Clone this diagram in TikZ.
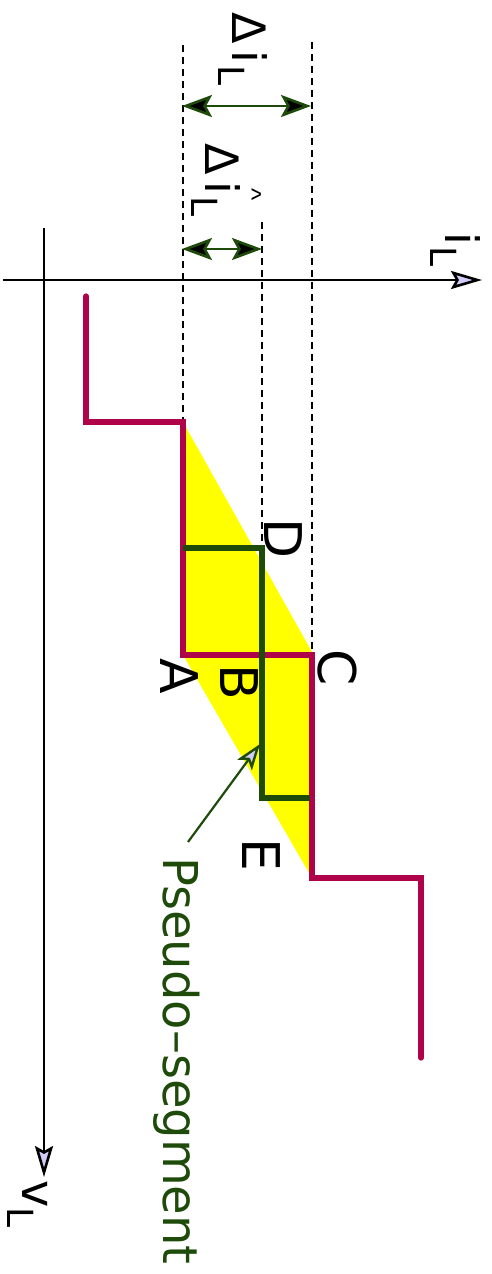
\documentclass[tikz,border=0pt]{standalone}
\usepackage{fontspec}
\setmainfont{DejaVu Sans}
\newfontfamily\arialf{Liberation Sans}
\usetikzlibrary{arrows.meta}
\definecolor{stairred}{HTML}{B0044A}
\definecolor{darkgreen}{HTML}{1E4A0A}
\definecolor{lav}{HTML}{D4CCF8}
\definecolor{yel}{HTML}{FFFF00}
\begin{document}
\begin{tikzpicture}[x=1pt,y=-1pt,
  axis/.style={line width=2.2pt, black, -{Stealth[length=31pt,width=18pt,inset=5pt,fill=lav,line width=2.6pt]}},
  dimarrow/.style={line width=2.8pt, darkgreen, {Stealth[length=30pt,width=22pt,inset=6pt,fill=black,line width=2.6pt]}-{Stealth[length=30pt,width=22pt,inset=6pt,fill=black,line width=2.6pt]}},
  guide/.style={line width=2.2pt, dash pattern=on 7pt off 5pt},
  redstair/.style={line width=5.2pt, stairred, line cap=round, line join=miter},
  greenstair/.style={line width=5.2pt, darkgreen, line join=miter},
  pointer/.style={line width=2.2pt, darkgreen, -{Stealth[length=26pt,width=18pt,inset=6pt,fill=lav,line width=2.4pt]}},
  lbl/.style={rotate=-90, inner sep=0pt, font=\fontsize{52}{60}\selectfont},
  sym/.style={rotate=-90, inner sep=0pt, anchor=base west}
]
\useasboundingbox (0,0) rectangle (491,1274);

% key points
\coordinate (r0) at (86,296);
\coordinate (r1) at (86,422);
\coordinate (P1) at (183,422);
\coordinate (A) at (183,655);
\coordinate (C) at (312,655);
\coordinate (r5) at (312,878);
\coordinate (r6) at (421,878);
\coordinate (r7) at (421,1058);
\coordinate (g0) at (183,548);
\coordinate (D) at (262,548);
\coordinate (E0) at (262,798);
\coordinate (g3) at (310,798);
\coordinate (t1) at (183,45);
\coordinate (t2) at (262,222);
\coordinate (t3) at (312,42);

% yellow parallelogram
\fill[yel] (P1) -- (312,652) -- (r5) -- (A) -- cycle;

% dashed guides
\draw[guide] (t1) -- (P1);
\draw[guide] (t2) -- (D);
\draw[guide] (t3) -- (C);

% dimension arrows
\coordinate (d1a) at (182,106); \coordinate (d1b) at (311,106);
\coordinate (d2a) at (182,249); \coordinate (d2b) at (262,249);
\draw[dimarrow] (d1a) -- (d1b);
\draw[dimarrow] (d2a) -- (d2b);

% axes
\coordinate (ha) at (3,280); \coordinate (hb) at (482,280);
\coordinate (va) at (44,228); \coordinate (vb) at (44,1177);
\draw[axis] (ha) -- (hb);
\draw[axis] (va) -- (vb);

% staircases
\draw[redstair] (r0) -- (r1) -- (P1) -- (A) -- (C) -- (r5) -- (r6) -- (r7);
\draw[greenstair] (g0) -- (D) -- (E0) -- (g3);

% point labels
\node[lbl] (lA) at (179,676) {A};
\node[lbl] (lB) at (239,682) {B};
\node[lbl] (lC) at (337,668) {C};
\node[lbl] (lD) at (283,539) {D};
\node[lbl] (lE) at (261,855) {E};

% pseudo-segment label and pointer
\node[sym, text=darkgreen, font=\fontsize{48}{56}\selectfont] (ps) at (163,857) {Pseudo–segment};
\coordinate (ptail) at (188,842);
\coordinate (ptip) at (260,744);
\draw[pointer] (ptail) -- (ptip);

% axis labels
\node[sym] (iL) at (445,232) {\fontsize{46}{50}\selectfont i\kern2pt\raisebox{-15pt}{\fontsize{36}{40}\selectfont L}};
\node[sym] (vL) at (22,1180) {\fontsize{46}{50}\selectfont v\raisebox{-15pt}{\fontsize{36}{40}\selectfont L}};

% delta labels
\node[sym] (dI) at (232,12) {\fontsize{46}{50}\selectfont Δ\kern7pt i\kern2pt\raisebox{-14pt}{\fontsize{36}{40}\selectfont L}};
\node[sym] (dIh) at (205,143) {\fontsize{46}{50}\selectfont Δ\kern7pt i\makebox[0pt]{\raisebox{38pt}{\arialf\fontsize{26}{28}\selectfont\textasciicircum}}\kern2pt\raisebox{-14pt}{\fontsize{36}{40}\selectfont L}};
\end{tikzpicture}
\end{document}
